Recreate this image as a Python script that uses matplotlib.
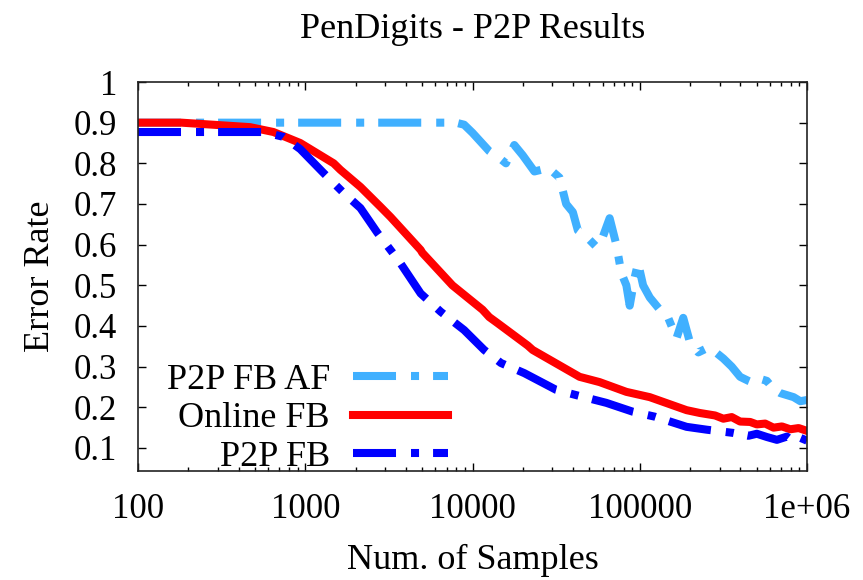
import matplotlib
matplotlib.use("Agg")
from matplotlib import pyplot as plt

plt.rcParams['font.family'] = ['Liberation Serif', 'DejaVu Serif']
plt.rcParams['font.size'] = 25

# x values are log10(number of samples)
af_exp = [2.0, 3.0, 3.90, 3.95, 4.0, 4.1, 4.17, 4.2, 4.25, 4.3, 4.37, 4.42, 4.45,
          4.52, 4.56, 4.6, 4.63, 4.68, 4.74, 4.78, 4.82, 4.86, 4.89, 4.92, 4.94,
          4.97, 4.99, 5.02, 5.06, 5.12, 5.16, 5.2, 5.22, 5.26, 5.3, 5.35, 5.4,
          5.44, 5.5, 5.55, 5.6, 5.65, 5.68, 5.72, 5.76, 5.8, 5.84, 5.88, 5.92,
          5.96, 6.0]
af_err = [0.90, 0.90, 0.90, 0.895, 0.875, 0.83, 0.81, 0.80, 0.845, 0.82, 0.78,
          0.785, 0.79, 0.765, 0.70, 0.68, 0.635, 0.62, 0.595, 0.62, 0.665, 0.60,
          0.53, 0.50, 0.45, 0.52, 0.555, 0.50, 0.47, 0.44, 0.43, 0.39, 0.37,
          0.42, 0.36, 0.335, 0.345, 0.34, 0.32, 0.30, 0.275, 0.265, 0.26, 0.27,
          0.265, 0.245, 0.235, 0.23, 0.225, 0.215, 0.218]

online_exp = [2.0, 2.26, 2.67, 2.81, 2.97, 3.01, 3.17, 3.21, 3.33, 3.45, 3.51,
              3.69, 3.70, 3.88, 4.06, 4.10, 4.15, 4.33, 4.36, 4.64, 4.76, 4.92,
              5.06, 5.28, 5.36, 5.45, 5.5, 5.55, 5.6, 5.66, 5.7, 5.75, 5.8, 5.85,
              5.9, 5.95, 6.0]
online_err = [0.90, 0.90, 0.889, 0.877, 0.85, 0.84, 0.80, 0.784, 0.742, 0.693,
              0.668, 0.587, 0.58, 0.50, 0.44, 0.422, 0.407, 0.352, 0.341, 0.275,
              0.262, 0.238, 0.225, 0.193, 0.186, 0.180, 0.172, 0.176, 0.165, 0.164,
              0.158, 0.160, 0.150, 0.153, 0.146, 0.149, 0.142]

p2p_exp = [2.0, 2.75, 2.87, 2.97, 3.11, 3.23, 3.33, 3.43, 3.56, 3.69, 3.81, 3.95,
           4.07, 4.17, 4.31, 4.50, 4.62, 4.80, 4.96, 5.09, 5.28, 5.4, 5.5, 5.56,
           5.65, 5.7, 5.76, 5.82, 5.88, 5.92, 5.96, 6.0]
p2p_err = [0.877, 0.877, 0.865, 0.835, 0.776, 0.727, 0.69, 0.63, 0.56, 0.48,
           0.435, 0.39, 0.341, 0.309, 0.284, 0.243, 0.23, 0.211, 0.189, 0.177,
           0.152, 0.145, 0.14, 0.137, 0.130, 0.135, 0.127, 0.120, 0.128, 0.115,
           0.125, 0.118]

xticks = [100, 1000, 10000, 100000, 1000000]
xtick_labels = ['100', '1000', '10000', '100000', '1e+06']
yticks = [0.1, 0.2, 0.3, 0.4, 0.5, 0.6, 0.7, 0.8, 0.9, 1]
ytick_labels = ['0.1', '0.2', '0.3', '0.4', '0.5', '0.6', '0.7', '0.8', '0.9', '1']

fig = plt.figure(figsize=(8.63, 5.80), dpi=100)
ax = fig.add_axes([138/863, 1-471/580, (807-138)/863, (471-82)/580])

lw = 5.8
dashdot = (0, (5.34, 1.86, 1.0, 1.74))
ax.plot([10**v for v in af_exp], af_err, color='#40b0ff', lw=lw, ls=dashdot,
        label='P2P FB AF')
ax.plot([10**v for v in online_exp], online_err, color='#ff0000', lw=lw,
        label='Online FB')
ax.plot([10**v for v in p2p_exp], p2p_err, color='#0000ff', lw=lw, ls=dashdot,
        label='P2P FB')

ax.set_xscale('log')
ax.set_xlim(100, 1e6)
ax.set_ylim(0.0434, 1.0)
ax.set_xticks(xticks)
ax.set_xticklabels(xtick_labels)
ax.set_yticks(yticks)
ax.set_yticklabels(ytick_labels)
ax.tick_params(which='both', direction='in', top=True, right=True)
ax.tick_params(which='major', length=5.8, width=1.0)
ax.tick_params(which='minor', length=3, width=1.0)
ax.tick_params(axis='x', pad=16)
ax.tick_params(axis='y', pad=15)
for s in ax.spines.values():
    s.set_linewidth(1.2)
    s.set_color('#222222')

ax.set_title('PenDigits - P2P Results', fontsize=26, pad=32)
ax.set_xlabel('Num. of Samples', fontsize=26, labelpad=13)
ax.set_ylabel('Error Rate', fontsize=26, labelpad=12)

ax.legend(loc='lower right', bbox_to_anchor=((448-138)/669, -0.008),
          markerfirst=False, frameon=False, borderpad=0, borderaxespad=0,
          fontsize=26, handlelength=2.63, handletextpad=0.64, labelspacing=0.15)

fig.savefig('out.png', dpi=100)
